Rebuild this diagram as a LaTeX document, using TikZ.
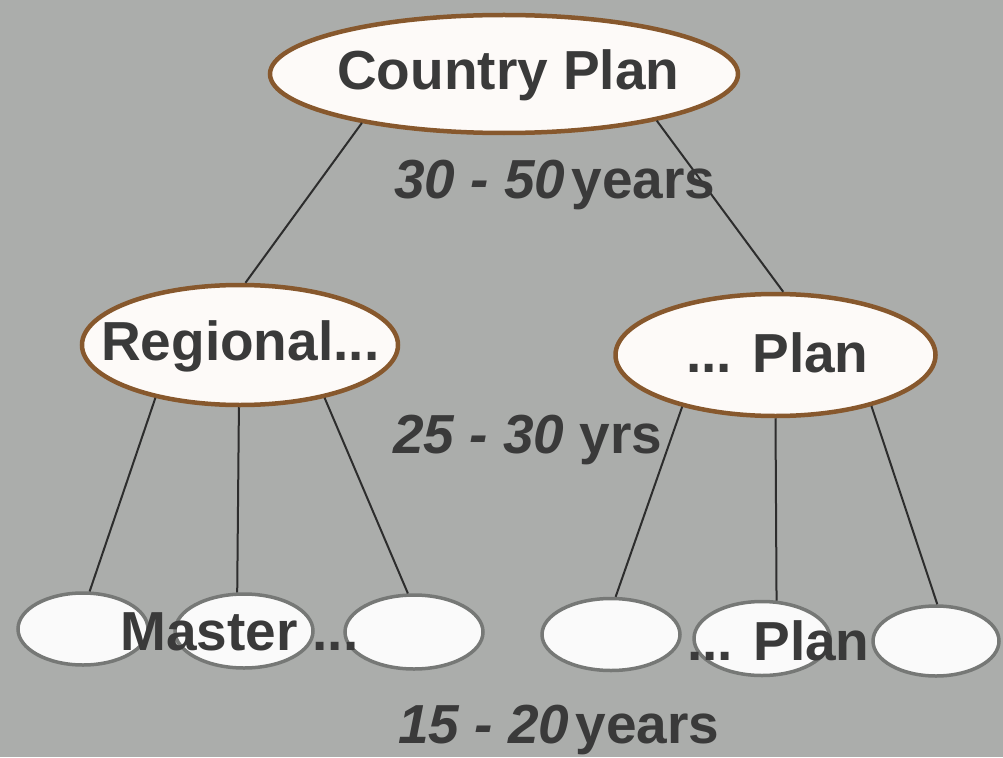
\documentclass[tikz,border=0pt]{standalone}
\usepackage{fontspec}
\setmainfont{Liberation Sans}
\usetikzlibrary{shapes.geometric}
\definecolor{bg}{RGB}{171,173,171}
\definecolor{txt}{RGB}{58,58,58}
\definecolor{brd}{RGB}{135,88,45}
\definecolor{gbrd}{RGB}{118,120,118}
\definecolor{lin}{RGB}{45,45,45}
\tikzset{
  topell/.style={ellipse, draw=brd, line width=4.5pt, fill={rgb,255:red,253;green,250;blue,248}, inner sep=0pt},
  botell/.style={ellipse, draw=gbrd, line width=3.5pt, fill={rgb,255:red,250;green,250;blue,250}, inner sep=0pt},
  lab/.style={anchor=base west, inner sep=0pt, text=txt, font=\fontsize{55}{60}\selectfont\bfseries},
  conn/.style={draw=lin, line width=2pt}
}
\newcommand{\yrnum}[1]{{\itshape #1}}
\begin{document}
\begin{tikzpicture}[x=1pt,y=-1pt]
\fill[bg] (0,0) rectangle (1003,757);
\useasboundingbox (0,0) rectangle (1003,757);
% top ellipses
\node[topell, minimum width=468pt, minimum height=118pt] (cp) at (504,74) {};
\node[topell, minimum width=316pt, minimum height=120pt] (reg) at (240,345) {};
\node[topell, minimum width=320pt, minimum height=122pt] (pp) at (775.5,355) {};
% bottom ellipses
\node[botell, minimum width=130pt, minimum height=72pt] (b1) at (83,629) {};
\node[botell, minimum width=138pt, minimum height=74pt] (b2) at (244,631) {};
\node[botell, minimum width=138pt, minimum height=74pt] (b3) at (414,632) {};
\node[botell, minimum width=138pt, minimum height=72pt] (b4) at (611,634.5) {};
\node[botell, minimum width=136pt, minimum height=74pt] (b5) at (762,638.5) {};
\node[botell, minimum width=126pt, minimum height=70pt] (b6) at (936,641) {};
% connectors
\draw[conn] (cp.199) -- (reg.85);
\draw[conn] (cp.343) -- (pp.83);
\draw[conn] (reg.212) -- (b1.80);
\draw[conn] (reg.269) -- (b2.100);
\draw[conn] (reg.328) -- (b3.99);
\draw[conn] (pp.209) -- (b4.83);
\draw[conn] (pp.270) -- (b5.69);
\draw[conn] (pp.332) -- (b6.88);
% labels
\node[lab] (tcp) at (337,90) {Country Plan};
\node[lab] (treg) at (101,360) {Regional...};
\node[lab] (tpp) at (686,372) {... Plan};
\node[lab] (tmas) at (120,650) {Master ...};
\node[lab] (tpb) at (687,660) {... Plan};
\node[lab] (t1) at (394,198) {\yrnum{30 - 50}\hspace{6pt}years};
\node[lab] (t2) at (393,453) {\yrnum{25 - 30} yrs};
\node[lab] (t3) at (398,743) {\yrnum{15 - 20}\hspace{6pt}years};
\end{tikzpicture}
\end{document}
